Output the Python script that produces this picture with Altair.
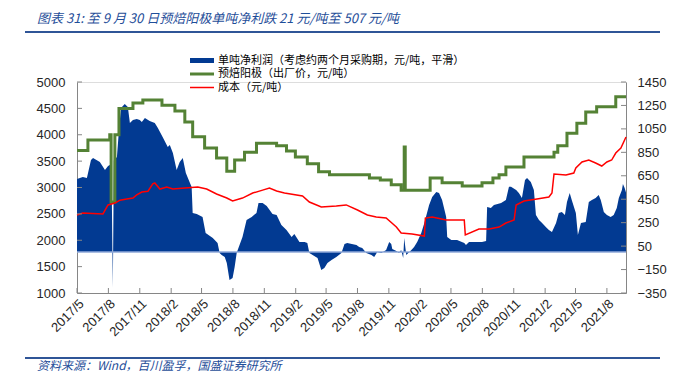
import altair as alt
import pandas as pd

# ---------------- data ----------------
profit = [
    ("2017-05-01", 622), ("2017-05-18", 640), ("2017-05-30", 631), ("2017-06-11", 785),
    ("2017-06-17", 802), ("2017-07-07", 768), ("2017-07-22", 699), ("2017-07-31", 733),
    ("2017-08-10", 750), ("2017-08-14", -307), ("2017-08-17", 780), ("2017-08-26", 810),
    ("2017-09-01", 1041), ("2017-09-07", 1228), ("2017-09-18", 1262), ("2017-09-27", 1237),
    ("2017-10-03", 1100), ("2017-10-12", 1126), ("2017-10-23", 1134), ("2017-11-01", 1126),
    ("2017-11-07", 1109), ("2017-11-16", 1143), ("2017-11-30", 1117), ("2017-12-15", 1100),
    ("2017-12-24", 1058), ("2018-01-07", 981), ("2018-01-22", 896), ("2018-01-28", 913),
    ("2018-02-06", 844), ("2018-02-17", 699), ("2018-02-26", 768), ("2018-03-07", 802),
    ("2018-03-16", 674), ("2018-03-22", 631), ("2018-04-02", 554), ("2018-04-05", 333),
    ("2018-04-17", 324), ("2018-05-04", 298), ("2018-05-13", 162), ("2018-06-03", 119),
    ("2018-06-17", 76), ("2018-06-23", -9), ("2018-06-29", -26), ("2018-07-08", -43),
    ("2018-07-14", -94), ("2018-07-22", -239), ("2018-07-31", -222), ("2018-08-06", -128),
    ("2018-08-12", -9), ("2018-08-15", 17), ("2018-08-29", 128), ("2018-09-10", 273),
    ("2018-09-25", 298), ("2018-10-09", 333), ("2018-10-15", 418), ("2018-10-27", 418),
    ("2018-11-08", 392), ("2018-11-25", 324), ("2018-12-07", 315), ("2018-12-21", 230),
    ("2019-01-05", 188), ("2019-01-20", 128), ("2019-01-28", 153), ("2019-02-12", 85),
    ("2019-02-27", 85), ("2019-03-07", 76), ("2019-03-13", -9), ("2019-04-06", -51),
    ("2019-04-17", -154), ("2019-04-26", -137), ("2019-05-05", -94), ("2019-05-17", -69),
    ("2019-05-31", -43), ("2019-06-15", -9), ("2019-06-24", 68), ("2019-07-02", 76),
    ("2019-07-29", 60), ("2019-08-06", 43), ("2019-08-15", 34), ("2019-08-27", -9),
    ("2019-09-11", -26), ("2019-09-19", -43), ("2019-09-28", 0), ("2019-10-10", -9),
    ("2019-10-24", 17), ("2019-11-02", 85), ("2019-11-08", 68), ("2019-11-11", 26),
    ("2019-11-23", 9), ("2019-12-01", -9), ("2019-12-07", 17), ("2019-12-13", -51),
    ("2019-12-16", 119), ("2019-12-22", -26), ("2020-01-06", 17), ("2020-01-14", 43),
    ("2020-01-23", 85), ("2020-02-04", 162), ("2020-02-13", 247), ("2020-02-27", 401),
    ("2020-03-07", 469), ("2020-03-19", 512), ("2020-03-27", 503), ("2020-04-05", 443),
    ("2020-04-17", 298), ("2020-04-20", 128), ("2020-05-02", 102), ("2020-05-19", 102),
    ("2020-06-09", 76), ("2020-06-14", 60), ("2020-06-23", 85), ("2020-07-31", 85),
    ("2020-08-12", 94), ("2020-08-15", 384), ("2020-08-26", 375), ("2020-09-04", 401),
    ("2020-09-25", 418), ("2020-10-09", 443), ("2020-10-18", 557), ("2020-10-24", 557),
    ("2020-11-08", 529), ("2020-11-16", 503), ("2020-11-25", 460), ("2020-12-04", 614),
    ("2020-12-10", 631), ("2020-12-21", 597), ("2020-12-30", 529), ("2021-01-05", 315),
    ("2021-01-14", 273), ("2021-01-23", 247), ("2021-02-03", 213), ("2021-02-12", 188),
    ("2021-02-21", 170), ("2021-03-05", 247), ("2021-03-13", 333), ("2021-03-22", 341),
    ("2021-03-31", 315), ("2021-04-06", 426), ("2021-04-14", 503), ("2021-04-20", 443),
    ("2021-05-02", 333), ("2021-05-08", 145), ("2021-05-17", 247), ("2021-05-31", 256),
    ("2021-06-09", 426), ("2021-06-18", 443), ("2021-06-29", 460), ("2021-07-08", 486),
    ("2021-07-14", 443), ("2021-07-23", 341), ("2021-08-01", 315), ("2021-08-12", 298),
    ("2021-08-21", 315), ("2021-08-30", 375), ("2021-09-05", 460), ("2021-09-14", 529),
    ("2021-09-17", 580), ("2021-09-22", 546), ("2021-09-26", 507),
]

price = [
    ("2017-05-01", 3700), ("2017-06-02", 3900), ("2017-08-05", 4000), ("2017-08-09", 2725),
    ("2017-08-20", 4000), ("2017-09-01", 4500), ("2017-10-12", 4600), ("2017-11-10", 4660),
    ("2018-01-05", 4560), ("2018-02-12", 4450), ("2018-03-13", 4240), ("2018-04-05", 3960),
    ("2018-05-10", 3750), ("2018-06-14", 3560), ("2018-07-14", 3310), ("2018-08-06", 3520),
    ("2018-09-04", 3670), ("2018-10-09", 3840), ("2018-12-07", 3790), ("2019-01-05", 3690),
    ("2019-01-31", 3580), ("2019-03-07", 3450), ("2019-04-09", 3300), ("2019-05-11", 3240),
    ("2019-09-05", 3180), ("2019-10-07", 3140), ("2019-11-08", 3050), ("2019-12-07", 2950),
    ("2019-12-16", 3770), ("2019-12-19", 2950), ("2020-03-01", 3180), ("2020-04-05", 3090),
    ("2020-06-03", 3030), ("2020-07-31", 3090), ("2020-09-01", 3180), ("2020-09-19", 3240),
    ("2020-10-09", 3390), ("2020-12-01", 3580), ("2021-02-27", 3670), ("2021-03-10", 3790),
    ("2021-04-06", 4030), ("2021-05-05", 4220), ("2021-05-31", 4430), ("2021-07-02", 4530),
    ("2021-08-27", 4720), ("2021-09-26", 4720),
]

cost = [
    ("2017-05-01", 2480), ("2017-05-18", 2515), ("2017-07-16", 2500), ("2017-07-31", 2670),
    ("2017-08-20", 2705), ("2017-09-04", 2760), ("2017-09-24", 2780), ("2017-10-12", 2800),
    ("2017-10-23", 2860), ("2017-11-07", 2915), ("2017-11-25", 2930), ("2017-12-09", 3070),
    ("2017-12-15", 3085), ("2017-12-30", 2970), ("2018-01-19", 3010), ("2018-02-06", 2970),
    ("2018-03-13", 2990), ("2018-04-20", 3010), ("2018-05-16", 2970), ("2018-06-14", 2877),
    ("2018-07-14", 2800), ("2018-07-31", 2745), ("2018-08-29", 2800), ("2018-09-28", 2895),
    ("2018-10-27", 2950), ("2018-11-16", 2990), ("2018-12-07", 2935), ("2018-12-30", 2895),
    ("2019-02-21", 2840), ("2019-03-13", 2725), ("2019-04-17", 2630), ("2019-05-31", 2650),
    ("2019-06-29", 2670), ("2019-08-01", 2573), ("2019-08-30", 2478), ("2019-09-25", 2440),
    ("2019-10-24", 2421), ("2019-11-23", 2251), ("2019-12-07", 2137), ("2020-01-08", 2118),
    ("2020-02-13", 2080), ("2020-02-16", 2420), ("2020-03-07", 2440), ("2020-04-17", 2385),
    ("2020-06-09", 2385), ("2020-06-12", 2100), ("2020-07-22", 2213), ("2020-08-21", 2213),
    ("2020-09-19", 2250), ("2020-10-09", 2327), ("2020-11-02", 2384), ("2020-11-08", 2668),
    ("2020-12-01", 2744), ("2021-01-08", 2782), ("2021-02-12", 2820), ("2021-02-21", 2895),
    ("2021-02-27", 3256), ("2021-04-03", 3237), ("2021-04-26", 3275), ("2021-05-02", 3369),
    ("2021-05-20", 3483), ("2021-06-09", 3521), ("2021-06-29", 3464), ("2021-07-17", 3407),
    ("2021-08-01", 3483), ("2021-08-15", 3521), ("2021-08-27", 3654), ("2021-09-11", 3749),
    ("2021-09-26", 3957),
]

left_ticks = [1000, 1500, 2000, 2500, 3000, 3500, 4000, 4500, 5000]
right_ticks = [-350, -150, 50, 250, 450, 650, 850, 1050, 1250, 1450]
x_tick_months = [(2017, 5), (2017, 8), (2017, 11), (2018, 2), (2018, 5), (2018, 8),
                 (2018, 11), (2019, 2), (2019, 5), (2019, 8), (2019, 11), (2020, 2),
                 (2020, 5), (2020, 8), (2020, 11), (2021, 2), (2021, 5), (2021, 8)]

title_text = "图表 31: 至 9 月 30 日预焙阳极单吨净利跌 21 元/吨至 507 元/吨"
source_text = "资料来源：Wind，百川盈孚，国盛证券研究所"
legend_labels = ["单吨净利润（考虑约两个月采购期，元/吨，平滑）", "预焙阳极（出厂价，元/吨）", "成本（元/吨）"]

BLUE = "#023a92"
GREEN = "#548235"
RED = "#ff0000"
AXIS_GRAY = "#868686"
TITLE_BLUE = "#1f4e99"

# ---------------- frames ----------------
def frame(pairs):
    return pd.DataFrame({"date": pd.to_datetime([p[0] for p in pairs]), "v": [p[1] for p in pairs]})

df_profit = frame(profit)
df_price = frame(price)
df_cost = frame(cost)

W, H = 549, 211
FONT = "Liberation Sans"
CJK = "Noto Sans CJK SC"

x_vals = [alt.DateTime(year=y, month=m, date=1) for y, m in x_tick_months]
x_scale = alt.Scale(domain=[alt.DateTime(year=2017, month=5, date=1),
                            alt.DateTime(year=2021, month=9, date=26)])
x_axis = alt.Axis(values=x_vals, format="%Y/%-m", labelAngle=-45, labelFontSize=13,
                  labelFont=FONT, labelColor="#262626", tickSize=0, labelPadding=4,
                  domainColor=AXIS_GRAY, grid=False, title=None, labelOverlap=False,
                  labelFlush=False)
x_enc = alt.X("date:T", scale=x_scale, axis=x_axis)

left_scale = alt.Scale(domain=[1000, 5000], nice=False, zero=False)
left_axis = alt.Axis(values=left_ticks, orient="left", format="d", labelFontSize=13, labelFont=FONT,
                     labelColor="#262626", tickSize=0, labelPadding=12,
                     domainColor=AXIS_GRAY, grid=False, title=None)
y_left = alt.Y("v:Q", scale=left_scale, axis=left_axis)

right_scale = alt.Scale(domain=[-350, 1450], nice=False, zero=False)
right_axis = alt.Axis(values=right_ticks, orient="right", format="d", labelFontSize=13, labelFont=FONT,
                      labelColor="#262626", tickSize=0, labelPadding=11,
                      domainColor=AXIS_GRAY, grid=False, title=None)
y_right = alt.Y("v:Q", scale=right_scale, axis=right_axis)

# ---------------- right-axis layer (profit) ----------------
area = alt.Chart(df_profit).mark_area(color=BLUE, opacity=1, interpolate="linear").encode(
    x=x_enc, y=y_right)
zero_line = alt.Chart(pd.DataFrame({"v": [0]})).mark_rule(color="#8fa9d8", strokeWidth=1.5).encode(
    y=y_right)
rticks = alt.Chart(pd.DataFrame({"v": right_ticks})).mark_rule(color=AXIS_GRAY).encode(
    y=y_right, x=alt.value(W - 5), x2=alt.value(W))
right_layer = alt.layer(area, zero_line, rticks)

# ---------------- left-axis layer (price, cost) ----------------
price_line = alt.Chart(df_price).mark_line(color=GREEN, strokeWidth=3, interpolate="step-after").encode(
    x=x_enc, y=y_left)
cost_line = alt.Chart(df_cost).mark_line(color=RED, strokeWidth=1.5).encode(
    x=x_enc, y=y_left)
lticks = alt.Chart(pd.DataFrame({"v": left_ticks})).mark_rule(color=AXIS_GRAY).encode(
    y=y_left, x=alt.value(0), x2=alt.value(5))
left_layer = alt.layer(price_line, cost_line, lticks)

# bottom inner ticks
bticks = alt.Chart(pd.DataFrame({"date": pd.to_datetime([f"{y}-{m:02d}-01" for y, m in x_tick_months])})).mark_rule(
    color=AXIS_GRAY).encode(x=x_enc, y=alt.value(H), y2=alt.value(H - 5))

# ---------------- decorations ----------------
def text_mark(txt, x, y, size, color, italic=False, font=CJK, baseline="middle"):
    return alt.Chart(pd.DataFrame({"t": [txt]})).mark_text(
        align="left", baseline=baseline, fontSize=size, color=color, font=font,
        fontStyle="italic" if italic else "normal").encode(
        text="t:N", x=alt.value(x), y=alt.value(y))

def hline(x1, x2, y, color, width):
    return alt.Chart(pd.DataFrame({"a": [0]})).mark_rule(color=color, strokeWidth=width).encode(
        x=alt.value(x1), x2=alt.value(x2), y=alt.value(y))

deco = [
    text_mark(title_text, -40, -63, 13, TITLE_BLUE, italic=True),
    hline(-52, 583, -50, "#2f5597", 2),
    hline(-52, 583, 276, "#2f5597", 2),
    text_mark(source_text, -40, 284, 12, TITLE_BLUE, italic=True),
]

leg_colors = [BLUE, GREEN, RED]
leg_widths = [5, 3, 1.5]
for i, (lab, col, sw) in enumerate(zip(legend_labels, leg_colors, leg_widths)):
    yy = -21.5 + 13.5 * i
    deco.append(hline(113, 137, yy, col, sw))
    deco.append(text_mark(lab, 141, yy, 11, "#000000"))

chart = alt.layer(right_layer, left_layer, bticks, *deco).resolve_scale(
    y="independent"
).properties(
    width=W, height=H,
    padding={"left": 69, "top": 74, "right": 47, "bottom": 81},
    autosize=alt.AutoSizeParams(type="none"),
).configure_view(stroke=None).configure(background="white")

chart.save("out.html", embed_options={"renderer": "svg", "actions": False})
